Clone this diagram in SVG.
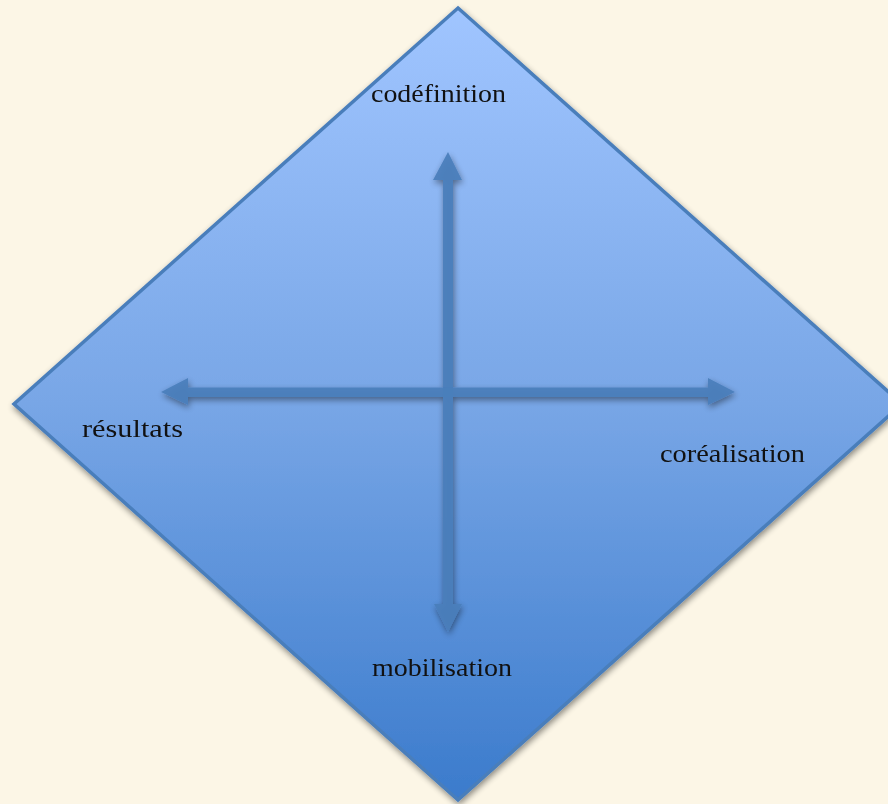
<svg xmlns="http://www.w3.org/2000/svg" width="888" height="804" viewBox="0 0 888 804">
<style>
.lbl{font-family:"Liberation Serif","DejaVu Serif",serif;font-size:25px;fill:#111;}
.arr{fill:#4a7ebb;opacity:0.92;}
</style>
<defs>
<linearGradient id="g" x1="0" y1="0" x2="0" y2="1">
<stop offset="0" stop-color="#a0c5ff"/>
<stop offset="0.5" stop-color="#78a6e6"/>
<stop offset="1" stop-color="#3b7bcc"/>
</linearGradient>
<filter id="sh" x="-10%" y="-10%" width="120%" height="120%">
<feGaussianBlur in="SourceAlpha" stdDeviation="3"/>
<feOffset dx="1" dy="3" result="b"/>
<feComponentTransfer><feFuncA type="linear" slope="0.45"/></feComponentTransfer>
<feMerge><feMergeNode/><feMergeNode in="SourceGraphic"/></feMerge>
</filter>
</defs>
<rect width="888" height="804" fill="#fcf6e6"/>
<g id="diamond" filter="url(#sh)">
<polygon points="458,8 902,404 458,800 14,404" fill="url(#g)" stroke="#4a7ebb" stroke-width="3.5"/>
</g>
<g id="connectors" filter="url(#sh)">
<path class="arr" d="M443,180 L433,180 L448,152 L462,180 L453,180 L453,604 L462,604 L448,632 L434,604 L443,604 Z"/>
<path class="arr" d="M188,387.5 L188,378 L161,392 L188,405 L188,397 L708,397 L708,405 L735,392 L708,378 L708,387.5 Z"/>
</g>
<g id="n-codefinition"><text class="lbl" x="371" y="102" textLength="135" lengthAdjust="spacingAndGlyphs">codéfinition</text></g>
<g id="n-resultats"><text class="lbl" x="82" y="437" textLength="101" lengthAdjust="spacingAndGlyphs">résultats</text></g>
<g id="n-corealisation"><text class="lbl" x="660" y="462" textLength="145" lengthAdjust="spacingAndGlyphs">coréalisation</text></g>
<g id="n-mobilisation"><text class="lbl" x="372" y="676" textLength="140" lengthAdjust="spacingAndGlyphs">mobilisation</text></g>
</svg>
